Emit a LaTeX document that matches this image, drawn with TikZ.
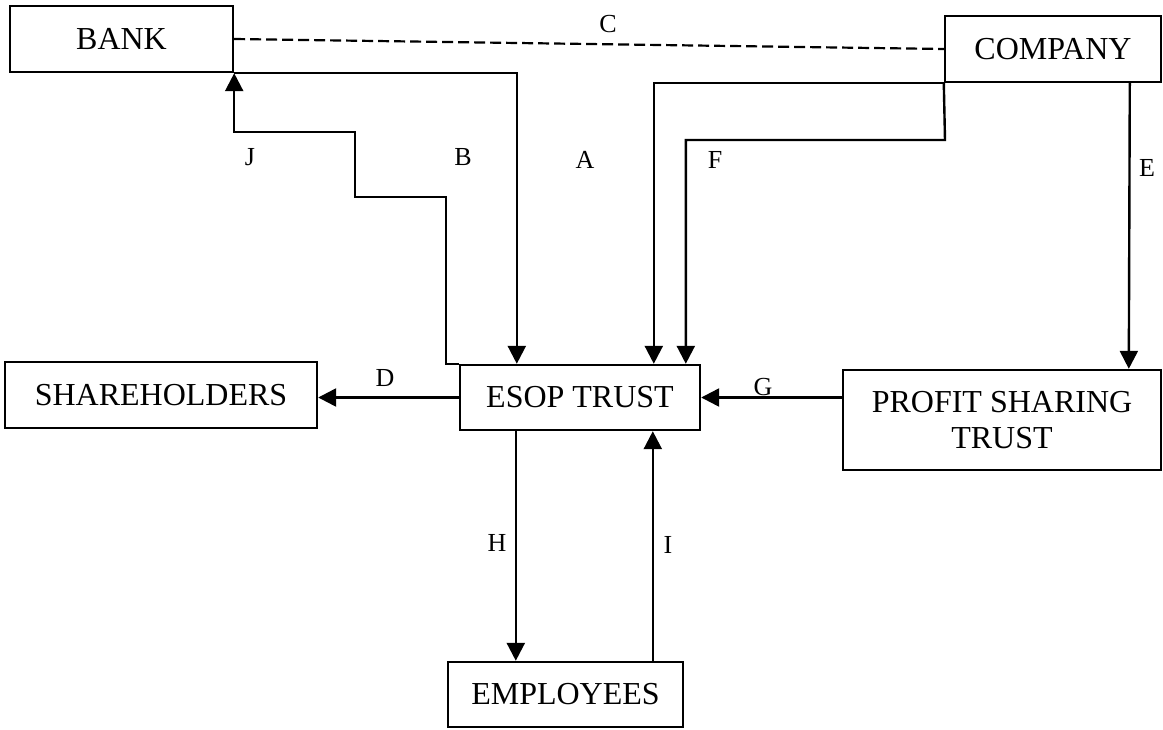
\documentclass[tikz,border=0pt]{standalone}
\usepackage{fontspec}
\setmainfont{Liberation Serif}
\usetikzlibrary{arrows.meta,calc}
\begin{document}
\begin{tikzpicture}[x=1pt,y=-1pt,
  box/.style={draw,line width=2.4pt,rectangle,inner sep=0pt,align=center,
    font=\fontsize{32}{36}\selectfont},
  lbl/.style={inner sep=0pt,font=\fontsize{26}{28}\selectfont},
  conn/.style={line width=2.4pt},
  arr/.style={conn,-{Triangle[length=18pt,width=18pt]}},
  dsh/.style={line width=2.2pt,dash pattern=on 11pt off 5pt}]
\useasboundingbox (0,0) rectangle (1163,729);
% boxes
\node[box,minimum width=223pt,minimum height=66pt] (bank) at (121.5,39) {BANK};
\node[box,minimum width=216pt,minimum height=66pt] (company) at (1053,49) {COMPANY};
\node[box,minimum width=312pt,minimum height=66pt] (share) at (161,395) {SHAREHOLDERS};
\node[box,minimum width=240pt,minimum height=65pt] (esop) at (580,397.5) {ESOP TRUST};
\node[box,minimum width=318pt,minimum height=100pt] (pst) at (1002,420) {PROFIT SHARING\\TRUST};
\node[box,minimum width=235pt,minimum height=65pt] (emp) at (565.5,694.5) {EMPLOYEES};
% helper coordinates
\coordinate (j1) at (446,197);
\coordinate (j2) at (355,132);
\coordinate (f1) at (945,140);
\coordinate (aIn) at ($(esop.north west)+(58,0)$);
\coordinate (fOut) at ($(esop.north west)+(195,0)$);
\coordinate (fIn) at ($(esop.north west)+(227,0)$);
\coordinate (eTop) at ($(company.south west)+(186,0)$);
\coordinate (eBot) at ($(pst.north west)+(287,0)$);
\coordinate (hTop) at ($(esop.south west)+(57,0)$);
\coordinate (iBot) at ($(emp.north west)+(206,0)$);
% connectors
\draw[dsh] (bank.east) -- (company.west);
\draw[arr] (bank.south east) -| (aIn);
\draw[arr] (esop.north west) -| (j1) -| (j2) -| (bank.south east);
\draw[arr] (company.south west) -| (fOut);
\draw[arr] (company.south west) -- (f1) -| (fIn);
\draw[arr] (eTop) -- (eBot);
\draw[arr] (pst.west |- esop.east) -- (esop.east);
\draw[arr] (esop.west) -- (share.east |- esop.west);
\draw[arr] (hTop) -- (hTop |- emp.north);
\draw[arr] (iBot) -- (iBot |- esop.south);
% labels
\node[lbl] (lA) at (585,160) {A};
\node[lbl] (lB) at (463,157) {B};
\node[lbl] (lC) at (608,24) {C};
\node[lbl] (lD) at (385,378) {D};
\node[lbl] (lE) at (1147,168) {E};
\node[lbl] (lF) at (715,160) {F};
\node[lbl] (lG) at (763,387) {G};
\node[lbl] (lH) at (497,543) {H};
\node[lbl] (lI) at (668,545) {I};
\node[lbl] (lJ) at (250,157) {J};
\end{tikzpicture}
\end{document}
